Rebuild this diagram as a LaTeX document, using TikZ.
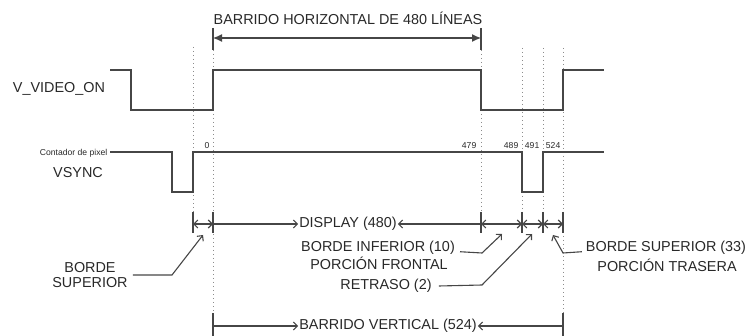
\documentclass[tikz,border=0pt]{standalone}
\usepackage{fontspec}
\setmainfont{Liberation Sans}
\usepackage{xcolor}
\definecolor{sggray}{RGB}{70,70,70}
\definecolor{txgray}{RGB}{40,40,40}
\definecolor{dtgray}{RGB}{140,140,140}
\usepackage{tikz}
\usetikzlibrary{arrows.meta, positioning, calc}

\tikzset{
  signal/.style={line width=1.1pt, sggray},
  guide/.style={line width=0.9pt, dtgray, dash pattern=on 1pt off 3pt},
  tickline/.style={line width=1.1pt, sggray},
  dimarrow/.style={line width=1.1pt, sggray, {Straight Barb[length=4pt,width=8pt]}-{Straight Barb[length=4pt,width=8pt]}},
  onearrow/.style={line width=1.1pt, sggray, -{Straight Barb[length=4pt,width=8pt]}},
  bigtxt/.style={font=\fontsize{14.4}{15.8}\selectfont, txgray, inner sep=1pt},
  smalltxt/.style={font=\fontsize{8.6}{10}\selectfont, txgray, inner sep=0.5pt},
}

\begin{document}
\begin{tikzpicture}[x=10pt, y=-10pt]
  \useasboundingbox (0,0) rectangle (74.6,33.6);

  % --- Horizontal sweep bracket ---
  \node[bigtxt] (hsweep) at (34.8,1.8) {BARRIDO HORIZONTAL DE 480 LÍNEAS};
  \coordinate (hleft) at (21.3,3.8);
  \coordinate (hright) at (48.1,3.8);
  \draw[tickline] (21.3,2.8) -- (21.3,5.0);
  \draw[tickline] (48.1,2.8) -- (48.1,5.0);
  \draw[line width=1.1pt, sggray, {Latex[length=9pt,width=8pt]}-{Latex[length=9pt,width=8pt]}] (hleft) -- (hright);

  % --- Dotted guides ---
  \draw[guide] (19.3,4.7) -- (19.3,21.2);
  \draw[guide] (21.3,5.0) -- (21.3,31.3);
  \draw[guide] (48.1,5.0) -- (48.1,21.2);
  \draw[guide] (52.2,4.8) -- (52.2,21.2);
  \draw[guide] (54.3,4.8) -- (54.3,21.2);
  \draw[guide] (56.3,4.8) -- (56.3,31.3);

  % --- V_VIDEO_ON ---
  \node[bigtxt] (vvideo) at (5.9,8.9) {V\_VIDEO\_ON};
  \draw[signal] (11.0,7.0) -- (13.1,7.0) -- (13.1,11.0) -- (21.3,11.0) -- (21.3,7.0)
    -- (48.1,7.0) -- (48.1,11.0) -- (56.3,11.0) -- (56.3,7.0) -- (60.4,7.0);

  % --- VSYNC ---
  \node[smalltxt, anchor=east] (count) at (10.8,15.3) {Contador de pixel};
  \node[bigtxt] (vsync) at (7.8,17.3) {VSYNC};
  \draw[signal] (11.0,15.2) -- (17.2,15.2) -- (17.2,19.2) -- (19.3,19.2) -- (19.3,15.2)
    -- (52.2,15.2) -- (52.2,19.2) -- (54.3,19.2) -- (54.3,15.2) -- (60.4,15.2);
  % pixel counts
  \node[smalltxt, anchor=east] (c0) at (21.0,14.6) {0};
  \node[smalltxt, anchor=east] (c479) at (47.7,14.6) {479};
  \node[smalltxt, anchor=east] (c489) at (51.9,14.6) {489};
  \node[smalltxt, anchor=east] (c491) at (54.0,14.6) {491};
  \node[smalltxt, anchor=east] (c524) at (56.1,14.6) {524};

  % --- Interval row ---
  \foreach \x in {19.3,21.3,48.1,52.2,54.3,56.3}
    \draw[tickline] (\x,21.2) -- (\x,23.3);
  \coordinate (r1) at (19.3,22.4);
  \coordinate (r2) at (21.3,22.4);
  \coordinate (r3) at (48.1,22.4);
  \coordinate (r4) at (52.2,22.4);
  \coordinate (r5) at (54.3,22.4);
  \coordinate (r6) at (56.3,22.4);
  \node[bigtxt] (disp) at (34.8,22.4) {DISPLAY (480)};
  \draw[dimarrow] (r1) -- (r2);
  \draw[onearrow] (r2) -- (disp.west);
  \draw[onearrow] (r3) -- (disp.east);
  \draw[dimarrow] (r3) -- (r4);
  \draw[dimarrow] (r4) -- (r5);
  \draw[dimarrow] (r5) -- (r6);

  % --- Leaders ---
  \node[bigtxt, align=center] (bsup) at (9.0,27.5) {BORDE\\SUPERIOR};
  \coordinate (kbsup) at (17.2,27.5);
  \coordinate (tbsup) at (20.3,23.5);
  \draw[onearrow] ([xshift=4pt]bsup.east) -- (kbsup) -- (tbsup);

  \node[bigtxt] (binf) at (37.8,24.8) {BORDE INFERIOR (10)};
  \node[bigtxt] (pfront) at (37.9,26.3) {PORCIÓN FRONTAL};
  \coordinate (kbinf) at (48.2,25.3);
  \coordinate (tbinf) at (50.2,23.4);
  \draw[onearrow] ([xshift=4pt]binf.base east) -- (kbinf) -- (tbinf);

  \node[bigtxt] (retr) at (38.6,28.6) {RETRASO (2)};
  \coordinate (kretr) at (48.2,28.5);
  \coordinate (tretr) at (53.2,23.4);
  \draw[onearrow] ([xshift=6pt]retr.east) -- (kretr) -- (tretr);

  \node[bigtxt] (bsup33) at (66.6,24.8) {BORDE SUPERIOR (33)};
  \node[bigtxt] (ptras) at (66.7,26.5) {PORCIÓN TRASERA};
  \coordinate (kbsup33) at (56.3,25.3);
  \coordinate (tbsup33) at (55.3,23.5);
  \draw[onearrow] ([xshift=-3pt]bsup33.base west) -- (kbsup33) -- (tbsup33);

  % --- Vertical sweep ---
  \draw[tickline] (21.3,31.3) -- (21.3,33.6);
  \draw[tickline] (56.3,31.3) -- (56.3,33.6);
  \coordinate (v1) at (21.3,32.6);
  \coordinate (v2) at (56.3,32.6);
  \node[bigtxt] (vsweep) at (38.8,32.6) {BARRIDO VERTICAL (524)};
  \draw[onearrow] (v1) -- (vsweep.west);
  \draw[onearrow] (v2) -- (vsweep.east);
\end{tikzpicture}
\end{document}
